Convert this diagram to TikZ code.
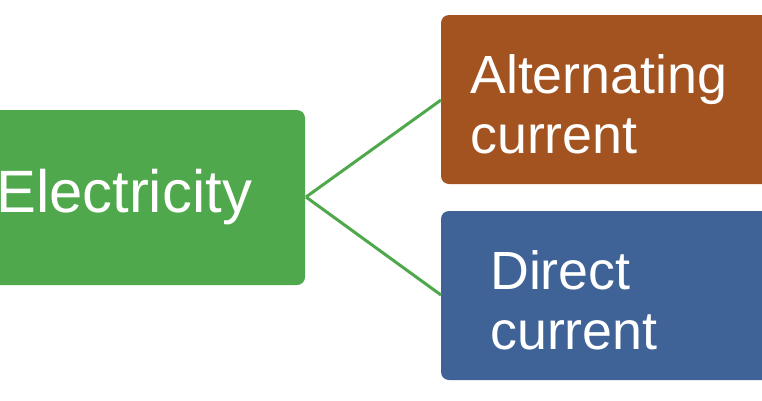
\documentclass[tikz,border=0pt]{standalone}
\usepackage{fontspec}
\setmainfont{Liberation Sans}
\definecolor{gr}{HTML}{4FA84B}
\definecolor{br}{HTML}{A3531F}
\definecolor{bl}{HTML}{3F6397}
\definecolor{ln}{HTML}{4FA84B}
\begin{document}
\begin{tikzpicture}[x=1bp,y=-1bp,
  box/.style={rounded corners=8bp,text=white,font=\fontsize{54}{60}\selectfont,align=left,inner sep=0pt}]
\useasboundingbox (0,0) rectangle (762,400);
\fill[white] (0,0) rectangle (762,400);
\fill[gr,rounded corners=8bp] (-20,110) rectangle (305,285);
\node[text=white,font=\fontsize{60}{66}\selectfont,anchor=west,inner sep=0pt] (e) at (-4,197) {Electricity};
\coordinate (ee) at (306,197);
\fill[br,rounded corners=8bp] (441,15) rectangle (780,184);
\coordinate (a) at (441,100);
\node[box,anchor=west] (at) at (470,104) {Alternating\\current};
\fill[bl,rounded corners=8bp] (441,211) rectangle (780,380);
\coordinate (d) at (441,295);
\node[box,anchor=west] (dt) at (490,300) {Direct\\current};
\draw[ln,line width=3bp] (ee) -- (a);
\draw[ln,line width=3bp] (ee) -- (d);
\end{tikzpicture}
\end{document}
